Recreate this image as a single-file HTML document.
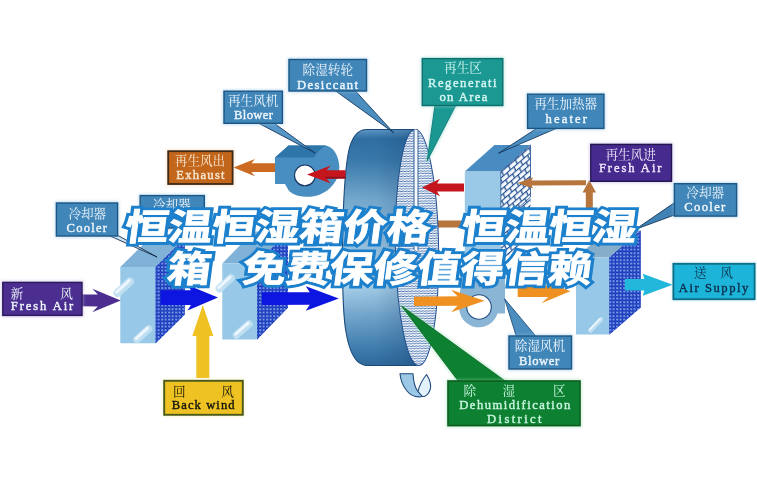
<!DOCTYPE html><html><head><meta charset="utf-8"><title>diagram</title>
<style>html,body{margin:0;padding:0;background:#fff;overflow:hidden}svg{display:block;font-family:"Liberation Serif",serif}</style>
</head><body>
<svg width="757" height="488" viewBox="0 0 757 488">
<rect width="757" height="488" fill="#ffffff"/>
<defs>
<filter id="soft" x="0" y="0" width="757" height="488" filterUnits="userSpaceOnUse"><feGaussianBlur stdDeviation="0.55"/></filter>
<filter id="glow" x="-20%" y="-30%" width="140%" height="160%"><feGaussianBlur stdDeviation="1.6"/></filter>
<linearGradient id="wheelBody" x1="0" y1="0" x2="0" y2="1">
<stop offset="0" stop-color="#5e99c6"/><stop offset="0.04" stop-color="#2f6fa3"/><stop offset="0.13" stop-color="#3a7aac"/><stop offset="0.3" stop-color="#76aace"/><stop offset="0.5" stop-color="#97c1df"/><stop offset="0.66" stop-color="#a9d1ea"/><stop offset="0.8" stop-color="#6fa3ca"/><stop offset="0.93" stop-color="#3f7dae"/><stop offset="1" stop-color="#2f6a9c"/>
</linearGradient>
<pattern id="dots" width="3.5" height="3.5" patternUnits="userSpaceOnUse"><rect width="3.5" height="3.5" fill="#1230b4"/><circle cx="1.2" cy="1.2" r="1.15" fill="#6f92e8"/><circle cx="0.9" cy="0.9" r="0.45" fill="#b4c8f6"/><circle cx="2.95" cy="2.95" r="0.75" fill="#3458cc"/></pattern>
<pattern id="wave" width="3.6" height="2.5" patternUnits="userSpaceOnUse"><rect width="3.6" height="2.5" fill="#f7fbfe"/><path d="M-0.2 1.5 L0.9 0.5 L2.7 1.7 L3.8 0.7" fill="none" stroke="#1f4f9c" stroke-width="0.78"/></pattern>
<pattern id="mesh" width="6.8" height="8.2" patternUnits="userSpaceOnUse" patternTransform="matrix(1 -0.86 0.5 1 500.8 171.5)"><rect width="6.8" height="8.2" fill="#f6fafe"/><path d="M0 0.5H6.8M0 4.6H6.8M0.6 0.5V4.6M4 4.6V8.7M4 -3.6V0.5" stroke="#244f8e" stroke-width="1" fill="none"/></pattern>
<linearGradient id="wheelShade" x1="0" y1="0" x2="1" y2="0"><stop offset="0" stop-color="#153f70" stop-opacity="0"/><stop offset="0.45" stop-color="#153f70" stop-opacity="0.04"/><stop offset="0.8" stop-color="#153f70" stop-opacity="0.22"/><stop offset="1" stop-color="#153f70" stop-opacity="0.4"/></linearGradient>
</defs>
<g filter="url(#soft)">
<rect x="425" y="220.5" width="168" height="7" fill="#b7743d"/>
<rect x="585.8" y="190" width="7" height="37.5" fill="#b7743d"/>
<path d="M589.3 180 L596 192.5 L582.6 192.5Z" fill="#b7743d" />
<path d="M120.3 267 L149.3 238.5 L184.6 238.5 L155.6 267Z" fill="#7fb2d6" />
<path d="M120.3 267 L155.6 267 L155.6 343.3 L120.3 343.3Z" fill="#97c8e7" />
<path d="M155.6 267 L184.6 238.5 L184.6 314.8 L155.6 343.3Z" fill="#1634b8" />
<path d="M155.6 267 L184.6 238.5 L184.6 314.8 L155.6 343.3Z" fill="url(#dots)" />
<path d="M222.3 263.5 L253.3 231.5 L288 231.5 L257 263.5Z" fill="#7fb2d6" />
<path d="M222.3 263.5 L257 263.5 L257 339.5 L222.3 339.5Z" fill="#97c8e7" />
<path d="M257 263.5 L288 231.5 L288 307.5 L257 339.5Z" fill="#1634b8" />
<path d="M257 263.5 L288 231.5 L288 307.5 L257 339.5Z" fill="url(#dots)" />
<path d="M117.5 293 L130 281.5" stroke="#c0dff2" stroke-width="8.4" stroke-linecap="round" fill="none" opacity="0.95"/>
<path d="M116.6 292.1 L129.1 280.6" stroke="#eef7fc" stroke-width="3.192" stroke-linecap="round" fill="none" opacity="0.95"/>
<path d="M137 339.5 L148.5 329" stroke="#c0dff2" stroke-width="7.6" stroke-linecap="round" fill="none" opacity="0.95"/>
<path d="M136.1 338.6 L147.6 328.1" stroke="#eef7fc" stroke-width="2.888" stroke-linecap="round" fill="none" opacity="0.95"/>
<path d="M219.5 288.5 L231 278" stroke="#c0dff2" stroke-width="7.8" stroke-linecap="round" fill="none" opacity="0.95"/>
<path d="M218.6 287.6 L230.1 277.1" stroke="#eef7fc" stroke-width="2.964" stroke-linecap="round" fill="none" opacity="0.95"/>
<path d="M236.5 335 L249 324" stroke="#c0dff2" stroke-width="7.6" stroke-linecap="round" fill="none" opacity="0.95"/>
<path d="M235.6 334.1 L248.1 323.1" stroke="#eef7fc" stroke-width="2.888" stroke-linecap="round" fill="none" opacity="0.95"/>
<path d="M464.8 171.5 L494.5 145 L530.5 145 L500.8 171.5Z" fill="#4a8cc2" />
<path d="M464.8 171.5 L500.8 171.5 L500.8 262 L464.8 262Z" fill="#9ac9e8" />
<path d="M500.8 171.5 L530.5 145 L530.5 235.5 L500.8 262Z" fill="#f6fafe" />
<path d="M500.8 171.5 L530.5 145 L530.5 235.5 L500.8 262Z" fill="url(#mesh)" />
<path d="M500.8 171.5 L530.5 145 L530.5 197 L500.8 223.5Z" fill="none" stroke="#2f5f9c" stroke-width="0.9"/>
<path d="M586 185.2 L531.6 185.4 L533.1 188.6 L517.6 182.9 L533.1 177.2 L531.6 180.4 L586 180.2Z" fill="#b7743d" />
<path d="M576 257.6 L607.2 230.6 L640.6 230.6 L609.4 257.6Z" fill="#86aecb" />
<path d="M576 257.6 L609.4 257.6 L609.4 334.6 L576 334.6Z" fill="#97c8e7" />
<path d="M609.4 257.6 L640.6 230.6 L640.6 307.6 L609.4 334.6Z" fill="#1634b8" />
<path d="M609.4 257.6 L640.6 230.6 L640.6 307.6 L609.4 334.6Z" fill="url(#dots)" />
<path d="M590.5 330.5 L601 319.5" stroke="#c0dff2" stroke-width="4.6" stroke-linecap="round" fill="none" opacity="0.95"/>
<path d="M589.6 329.6 L600.1 318.6" stroke="#eef7fc" stroke-width="1.7479999999999998" stroke-linecap="round" fill="none" opacity="0.95"/>
<path d="M460 302 A19.5 19.5 0 0 0 497.5 313.5 L505 313.5 L505 262 L468 262 C462 275 459 290 460 302Z" fill="#8ab5d5"/>
<circle cx="479" cy="307" r="12.3" fill="#ffffff" stroke="#234f84" stroke-width="1.1"/>
<path d="M417 129.5 L366 129.5 C356 130 351 140 348.5 152 C345 170 343 200 342.5 250 C342.3 290 343 315 346 332 C349 350 355 364.5 366 365.5 L417 365.5Z" fill="url(#wheelBody)" stroke="#1d4a7c" stroke-width="1.1"/>
<path d="M417 129.5 L366 129.5 C356 130 351 140 348.5 152 C345 170 343 200 342.5 250 C342.3 290 343 315 346 332 C349 350 355 364.5 366 365.5 L417 365.5Z" fill="url(#wheelShade)"/>
</g>
<ellipse cx="417" cy="247.5" rx="21.6" ry="118" fill="url(#wave)" stroke="#23508f" stroke-width="1" transform="rotate(-0.9 417 247.5)"/>
<clipPath id="faceclip"><ellipse cx="417" cy="247.5" rx="21.6" ry="118" transform="rotate(-0.9 417 247.5)"/></clipPath>
<g clip-path="url(#faceclip)"><rect x="414" y="128" width="4" height="122" fill="#f6fafe"/><path d="M414 128V250M418 128V250" stroke="#23508f" stroke-width="0.9" fill="none"/></g>
<g filter="url(#soft)">
<path d="M400 373.7 L413 373.7 C413.5 382 415 388 418 391.5 L422.5 396.5 C417 397.5 411 396 407 391 C403 386 400.5 380 400 373.7Z" fill="#9cc8e6" stroke="#1f4a7c" stroke-width="1.1" stroke-linejoin="round"/>
<path d="M426.6 374.5 C430 380 431.5 386 430 390 C428.5 394.5 425 397 422.5 396.5 L418 391.5 C419.5 385 422.5 379.5 426.6 374.5Z" fill="#e2f1fa" stroke="#1f4a7c" stroke-width="1.1" stroke-linejoin="round"/>
<path d="M275 157.5 L288.5 145.5 L326 145.5 C334 147 339.5 157 339.3 168 C339 180 331 190 320 194.5 C311 198 297 198 289 191 L285 184 L275 184Z" fill="#4a8ec0"/>
<path d="M275 157.5 L288.5 145.5 L326 145.5 Q318 150 314 157.5Z" fill="#2f74a9"/>
<circle cx="304.9" cy="175.4" r="10.4" fill="#ffffff" stroke="#173562" stroke-width="1.1"/>
<path d="M464 191.6 L437 191.6 L440 196.2 L422 187.5 L440 178.8 L437 183.4 L464 183.4Z" fill="#c4141f" />
<path d="M345.5 178.6 L326.5 178.7 L331 183.5 L307 174.6 L331 165.5 L326.5 170.3 L345.5 170.2Z" fill="#c4141f" />
<path d="M326.5 178.5 L345.5 178.5 L345.5 176.8 L325 176.8Z" fill="#8d0f18"/>
<path d="M275 171.9 L251.4 171.9 L254.9 176.3 L233.4 167.6 L254.9 158.9 L251.4 163.3 L275 163.3Z" fill="#cc6a22" />
<path d="M82 294.5 L97.8 294.6 L92.4 288.7 L120.8 300.6 L92.2 312.3 L97.8 306.4 L82 306.3Z" fill="#4b2f8f" />
<path d="M160.5 290.3 L191 290.3 L187.5 284.9 L218 297.6 L187.5 310.4 L191 304.9 L160.5 304.9Z" fill="#0a12e0" />
<path d="M262 292.3 L309.8 292.2 L305.8 286.2 L338.8 298.4 L305.8 310.7 L309.8 304.8 L262 304.9Z" fill="#0a12e0" />
<path d="M196.3 378 L196.3 336 L192.3 336 L202.8 305 L213.3 336 L209.3 336 L209.3 378Z" fill="#efc122" />
<path d="M414 296.7 L457.6 296.3 L451 289.8 L484.6 300.8 L451.2 312.3 L457.6 305.7 L414 306.1Z" fill="#ee9122" />
<path d="M517.7 285.5 L548.4 285.5 L541.4 279.2 L570.4 291.2 L541.4 303.2 L548.4 296.9 L517.7 296.9Z" fill="#ee9122" />
<path d="M624.8 279 L644.3 279 L642.8 273.7 L672.8 284.7 L642.8 295.7 L644.3 290.4 L624.8 290.4Z" fill="#20b8dc" />
<path d="M335 90.5 L393.8 132.9 L355 90.5Z" fill="#4b8ebf" stroke="#16385f" stroke-width="0.9" stroke-linejoin="round" />
<path d="M257.2 122.5 L315 153 L273.2 122.5Z" fill="#5596c6" stroke="#16385f" stroke-width="0.9" stroke-linejoin="round" />
<path d="M109 235.5 L157 257 L118 235.5Z" fill="#cfe3f2" stroke="#12294a" stroke-width="0.9" stroke-linejoin="round" />
<path d="M435 105 L427.2 160.8 L456 105Z" fill="#8fd8d2" stroke="#8fd8d2" stroke-width="3" stroke-linejoin="round" opacity="0.5" filter="url(#glow)"/>
<path d="M435 105 L427.2 160.8 L456 105Z" fill="#1b9893" stroke="#137a76" stroke-width="0.9" stroke-linejoin="round" />
<path d="M538 127.5 L498.4 153.3 L558.5 127.5Z" fill="#4b8ebf" stroke="#16385f" stroke-width="0.9" stroke-linejoin="round" />
<path d="M675 202.3 L635.5 229.3 L675 214.8Z" fill="#3f82b4" stroke="#14355a" stroke-width="0.9" stroke-linejoin="round" />
<path d="M516.5 337 L504.6 298.8 L536.5 337Z" fill="#4b8ebf" stroke="#1f4f80" stroke-width="0.9" stroke-linejoin="round" />
<path d="M459 382 L401.6 306 L506.5 382Z" fill="#8fe0b0" stroke="#8fe0b0" stroke-width="3" stroke-linejoin="round" opacity="0.5" filter="url(#glow)"/>
<path d="M459 382 L401.6 306 L506.5 382Z" fill="#0d8030" stroke="#0a6a22" stroke-width="0.9" stroke-linejoin="round" />
<rect x="287.5" y="58" width="80.5" height="34.5" fill="#8cc4e8" opacity="0.55" filter="url(#glow)"/>
<rect x="289" y="59.5" width="77.5" height="31.5" fill="#4186b9" stroke="#1f5784" stroke-width="1.4"/>
<text x="327.8" y="73.8" font-family="'Liberation Serif', 'Noto Serif CJK SC', serif" font-size="12.6" text-anchor="middle" fill="#eef6fc">除湿转轮</text>
<text x="297" y="88.6" font-family="'Liberation Serif', serif" font-size="12.6" font-weight="normal" fill="#eef6fc" stroke="#eef6fc" stroke-width="0.4" textLength="61" lengthAdjust="spacing" >Desiccant</text>
<rect x="222.5" y="89.7" width="61.4" height="35.1" fill="#8cc4e8" opacity="0.55" filter="url(#glow)"/>
<rect x="224" y="91.2" width="58.4" height="32.1" fill="#4186b9" stroke="#1f5784" stroke-width="1.4"/>
<text x="253.2" y="105" font-family="'Liberation Serif', 'Noto Serif CJK SC', serif" font-size="12.6" text-anchor="middle" fill="#eef6fc">再生风机</text>
<text x="234" y="119.3" font-family="'Liberation Serif', serif" font-size="12.6" font-weight="normal" fill="#eef6fc" stroke="#eef6fc" stroke-width="0.4" textLength="39" lengthAdjust="spacing" >Blower</text>
<rect x="166.7" y="149.7" width="67.4" height="35.8" fill="#f0c8a0" opacity="0.55" filter="url(#glow)"/>
<rect x="168.2" y="151.2" width="64.4" height="32.8" fill="#c2661f" stroke="#3f2a18" stroke-width="1.8"/>
<text x="200" y="165" font-family="'Liberation Serif', 'Noto Serif CJK SC', serif" font-size="12.6" text-anchor="middle" fill="#f7e7cf">再生风出</text>
<text x="176.3" y="179" font-family="'Liberation Serif', serif" font-size="12.6" font-weight="normal" fill="#f7e7cf" stroke="#f7e7cf" stroke-width="0.4" textLength="48.3" lengthAdjust="spacing" >Exhaust</text>
<rect x="138.7" y="194.1" width="67.1" height="35.4" fill="#8cc4e8" opacity="0.55" filter="url(#glow)"/>
<rect x="140.2" y="195.6" width="64.1" height="32.4" fill="#4186b9" stroke="#1f5784" stroke-width="1.4"/>
<text x="171.7" y="209" font-family="'Liberation Serif', 'Noto Serif CJK SC', serif" font-size="12.6" text-anchor="middle" fill="#eef6fc">冷却器</text>
<rect x="54.9" y="201.5" width="64.2" height="36" fill="#8cc4e8" opacity="0.55" filter="url(#glow)"/>
<rect x="56.4" y="203" width="61.2" height="33" fill="#4186b9" stroke="#1f5784" stroke-width="1.4"/>
<text x="87.3" y="218.2" font-family="'Liberation Serif', 'Noto Serif CJK SC', serif" font-size="12.6" text-anchor="middle" fill="#eef6fc">冷却器</text>
<text x="66.5" y="231.6" font-family="'Liberation Serif', serif" font-size="12.6" font-weight="normal" fill="#eef6fc" stroke="#eef6fc" stroke-width="0.4" textLength="40.5" lengthAdjust="spacing" >Cooler</text>
<rect x="1.3" y="280.9" width="82.2" height="36" fill="#b7a6e0" opacity="0.55" filter="url(#glow)"/>
<rect x="2.8" y="282.4" width="79.2" height="33" fill="#4b2f8f" stroke="#2a1a5a" stroke-width="1.4"/>
<text x="17" y="297.6" font-family="'Liberation Serif', 'Noto Serif CJK SC', serif" font-size="12.6" text-anchor="middle" fill="#eef6fc">新</text>
<text x="66.6" y="297.6" font-family="'Liberation Serif', 'Noto Serif CJK SC', serif" font-size="12.6" text-anchor="middle" fill="#eef6fc">风</text>
<text x="10.7" y="310.2" font-family="'Liberation Serif', serif" font-size="12.6" font-weight="normal" fill="#eef6fc" stroke="#eef6fc" stroke-width="0.4" textLength="62.6" lengthAdjust="spacing" >Fresh Air</text>
<rect x="162.7" y="379.3" width="81.6" height="37" fill="#f3e39a" opacity="0.55" filter="url(#glow)"/>
<rect x="164.2" y="380.8" width="78.6" height="34" fill="#edc222" stroke="#4a5a1a" stroke-width="1.9"/>
<text x="179.2" y="396" font-family="'Liberation Serif', 'Noto Serif CJK SC', serif" font-size="12.6" text-anchor="middle" fill="#15150c">回</text>
<text x="227.5" y="396" font-family="'Liberation Serif', 'Noto Serif CJK SC', serif" font-size="12.6" text-anchor="middle" fill="#15150c">风</text>
<text x="171.8" y="409.2" font-family="'Liberation Serif', serif" font-size="12.6" font-weight="normal" fill="#15150c" stroke="#15150c" stroke-width="0.4" textLength="62.8" lengthAdjust="spacing" >Back wind</text>
<rect x="420.8" y="57.1" width="83.5" height="49.9" fill="#8fd8d2" opacity="0.55" filter="url(#glow)"/>
<rect x="422.3" y="58.6" width="80.5" height="46.9" fill="#1b9893" stroke="#0f6f6c" stroke-width="1.4"/>
<text x="463" y="72.4" font-family="'Liberation Serif', 'Noto Serif CJK SC', serif" font-size="12.6" text-anchor="middle" fill="#d4f6f2">再生区</text>
<text x="428" y="86.6" font-family="'Liberation Serif', serif" font-size="12.6" font-weight="normal" fill="#d4f6f2" stroke="#d4f6f2" stroke-width="0.4" textLength="68.6" lengthAdjust="spacing" >Regenerati</text>
<text x="439.4" y="101.2" font-family="'Liberation Serif', serif" font-size="12.6" font-weight="normal" fill="#d4f6f2" stroke="#d4f6f2" stroke-width="0.4" textLength="47.9" lengthAdjust="spacing" >on Area</text>
<rect x="526.1" y="92.7" width="79.3" height="37.2" fill="#8cc4e8" opacity="0.55" filter="url(#glow)"/>
<rect x="527.6" y="94.2" width="76.3" height="34.2" fill="#4186b9" stroke="#1f5784" stroke-width="1.4"/>
<text x="565.7" y="108.2" font-family="'Liberation Serif', 'Noto Serif CJK SC', serif" font-size="12.6" text-anchor="middle" fill="#eef6fc">再生加热器</text>
<text x="545.5" y="122.6" font-family="'Liberation Serif', serif" font-size="12.6" font-weight="normal" fill="#eef6fc" stroke="#eef6fc" stroke-width="0.4" textLength="41.5" lengthAdjust="spacing" >heater</text>
<rect x="589.3" y="142.9" width="83.7" height="39.9" fill="#b7a6e0" opacity="0.55" filter="url(#glow)"/>
<rect x="590.8" y="144.4" width="80.7" height="36.9" fill="#472b8d" stroke="#241650" stroke-width="1.4"/>
<text x="630.6" y="159" font-family="'Liberation Serif', 'Noto Serif CJK SC', serif" font-size="12.6" text-anchor="middle" fill="#efe6fb">再生风进</text>
<text x="598.9" y="172.4" font-family="'Liberation Serif', serif" font-size="12.6" font-weight="normal" fill="#efe6fb" stroke="#efe6fb" stroke-width="0.4" textLength="62.6" lengthAdjust="spacing" >Fresh Air</text>
<rect x="672.9" y="182.2" width="65.2" height="35.4" fill="#8cc4e8" opacity="0.55" filter="url(#glow)"/>
<rect x="674.4" y="183.7" width="62.2" height="32.4" fill="#4186b9" stroke="#1f5784" stroke-width="1.4"/>
<text x="705.2" y="197" font-family="'Liberation Serif', 'Noto Serif CJK SC', serif" font-size="12.6" text-anchor="middle" fill="#eef6fc">冷却器</text>
<text x="684.3" y="211" font-family="'Liberation Serif', serif" font-size="12.6" font-weight="normal" fill="#eef6fc" stroke="#eef6fc" stroke-width="0.4" textLength="41" lengthAdjust="spacing" >Cooler</text>
<rect x="671.9" y="262.3" width="84.2" height="38.4" fill="#a5e2f0" opacity="0.55" filter="url(#glow)"/>
<rect x="673.4" y="263.8" width="81.2" height="35.4" fill="#1cb4d8" stroke="#0f6f8a" stroke-width="1.9"/>
<text x="700.2" y="277.4" font-family="'Liberation Serif', 'Noto Serif CJK SC', serif" font-size="12.6" text-anchor="middle" fill="#0f3050">送</text>
<text x="726.5" y="277.4" font-family="'Liberation Serif', 'Noto Serif CJK SC', serif" font-size="12.6" text-anchor="middle" fill="#0f3050">风</text>
<text x="678.8" y="291.6" font-family="'Liberation Serif', serif" font-size="12.6" font-weight="normal" fill="#0f3050" stroke="#0f3050" stroke-width="0.4" textLength="69.6" lengthAdjust="spacing" >Air Supply</text>
<rect x="507.5" y="334.5" width="65.5" height="36" fill="#8cc4e8" opacity="0.55" filter="url(#glow)"/>
<rect x="509" y="336" width="62.5" height="33" fill="#4186b9" stroke="#1f5784" stroke-width="1.4"/>
<text x="540" y="350" font-family="'Liberation Serif', 'Noto Serif CJK SC', serif" font-size="12.6" text-anchor="middle" fill="#eef6fc">除湿风机</text>
<text x="519" y="364.6" font-family="'Liberation Serif', serif" font-size="12.6" font-weight="normal" fill="#eef6fc" stroke="#eef6fc" stroke-width="0.4" textLength="40.2" lengthAdjust="spacing" >Blower</text>
<rect x="446.5" y="379.5" width="135" height="47.6" fill="#8fd8a6" opacity="0.55" filter="url(#glow)"/>
<rect x="448" y="381" width="132" height="44.6" fill="#0d8030" stroke="#0a5c20" stroke-width="1.6"/>
<text x="469.8" y="394.6" font-family="'Liberation Serif', 'Noto Serif CJK SC', serif" font-size="12.6" text-anchor="middle" fill="#c8f5e0">除</text>
<text x="508.8" y="394.6" font-family="'Liberation Serif', 'Noto Serif CJK SC', serif" font-size="12.6" text-anchor="middle" fill="#c8f5e0">湿</text>
<text x="559.3" y="394.6" font-family="'Liberation Serif', 'Noto Serif CJK SC', serif" font-size="12.6" text-anchor="middle" fill="#c8f5e0">区</text>
<text x="459.2" y="409" font-family="'Liberation Serif', serif" font-size="12.6" font-weight="normal" fill="#c8f5e0" stroke="#c8f5e0" stroke-width="0.4" textLength="111.2" lengthAdjust="spacing" >Dehumidification</text>
<text x="487" y="423" font-family="'Liberation Serif', serif" font-size="12.6" font-weight="normal" fill="#c8f5e0" stroke="#c8f5e0" stroke-width="0.4" textLength="54.5" lengthAdjust="spacing" >District</text>
</g>
<g font-family="'Liberation Sans', 'Noto Sans CJK SC', sans-serif" font-size="36.4" font-weight="bold" fill="#1d80cc" stroke="#1d80cc" stroke-width="6.4" stroke-linejoin="miter" stroke-miterlimit="2.5">
<text transform="translate(123.5 240) skewX(-7.6) scale(1.2 1)">恒温恒湿箱价格</text>
<text transform="translate(460.5 240) skewX(-7.6) scale(1.2 1)">恒温恒湿</text>
<text transform="translate(166 281.5) skewX(-7.6) scale(1.2 1)">箱</text>
<text transform="translate(241 281.5) skewX(-7.6) scale(1.2 1)">免费保修值得信赖</text>
</g>
<g font-family="'Liberation Sans', 'Noto Sans CJK SC', sans-serif" font-size="36.4" font-weight="bold" fill="#ffffff" stroke="#ffffff" stroke-width="0.8" stroke-linejoin="miter" stroke-miterlimit="2.5">
<text transform="translate(123.5 240) skewX(-7.6) scale(1.2 1)">恒温恒湿箱价格</text>
<text transform="translate(460.5 240) skewX(-7.6) scale(1.2 1)">恒温恒湿</text>
<text transform="translate(166 281.5) skewX(-7.6) scale(1.2 1)">箱</text>
<text transform="translate(241 281.5) skewX(-7.6) scale(1.2 1)">免费保修值得信赖</text>
</g>
</svg></body></html>
